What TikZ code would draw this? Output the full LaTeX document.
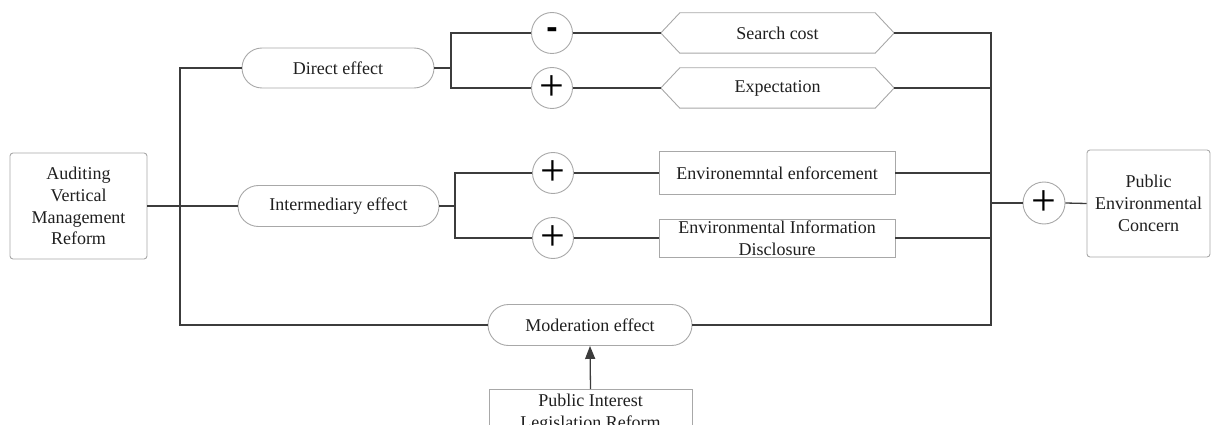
\documentclass[tikz,border=0pt]{standalone}
\usepackage{fontspec}
\setmainfont{Liberation Serif}
\newfontfamily\sansbold{Liberation Sans}
\usetikzlibrary{shapes.misc,arrows.meta,calc}
\definecolor{conn}{HTML}{3C3C3C}
\definecolor{edge}{HTML}{A8A8A8}
\begin{document}
\begin{tikzpicture}[x=1pt,y=-1pt,
  every node/.style={font=\fontsize{18}{21.7}\selectfont, text=black!88, inner sep=0pt},
  boxr/.style={draw=edge, line width=0.9pt, rounded corners=3pt, align=center},
  boxs/.style={draw=edge, line width=0.9pt, align=center},
  pill/.style={draw=edge, line width=0.9pt, rounded rectangle, minimum height=41pt},
  sign/.style={draw=edge, line width=0.9pt, circle, minimum size=41pt, font=\fontsize{44}{44}\selectfont, text=black},
  hexa/.style={minimum width=233pt, minimum height=40pt},
  wire/.style={draw=conn, line width=1.3pt},
]
\useasboundingbox (0,0) rectangle (1213,425);
\clip (0,0) rectangle (1213,425);

% nodes
\node[boxr, minimum width=137pt, minimum height=106pt] (avmr) at (78.5,206) {Auditing\\Vertical\\Management\\Reform};
\node[pill, minimum width=192pt, minimum height=40pt] (direct) at (338,68) {Direct effect};
\node[pill, minimum width=201pt] (inter) at (338.5,206) {Intermediary effect};
\node[pill, minimum width=204pt] (moder) at (590,325) {Moderation effect};

\node[sign] (mc) at (552,33) {\sansbold\bfseries\fontsize{34}{34}\selectfont\raisebox{-2pt}{-}};
\node[sign] (p1) at (552,88) {+};
\node[sign] (p2) at (553,173) {+};
\node[sign] (p3) at (553,238) {+};
\node[sign, minimum size=42pt] (p4) at (1044,203) {+};

\node[hexa] (sc) at (777.5,33) {Search cost};
\node[hexa] (ex) at (777.5,88) {Expectation};
\foreach \h in {sc,ex}{
  \draw[draw=edge, line width=0.9pt] (\h.west) -- ($(\h.north west)+(19,0)$) -- ($(\h.north east)+(-19,0)$)
    -- (\h.east) -- ($(\h.south east)+(-19,0)$) -- ($(\h.south west)+(19,0)$) -- cycle;
}

\node[boxs, minimum width=236pt, minimum height=43pt] (enf) at (777,173) {Environemntal enforcement};
\node[boxs, minimum width=236pt, minimum height=38pt] (dis) at (777,238) {Environmental Information\\Disclosure};
\node[boxr, minimum width=123pt, minimum height=107pt] (pec) at (1148.5,203.5) {Public\\Environmental\\Concern};
\node[boxs, minimum width=203pt, minimum height=50pt, anchor=north, text depth=6pt] (pil) at (590.5,389) {Public Interest\\Legislation Reform};

% coordinates
\coordinate (blt) at (180,68);
\coordinate (blb) at (180,325);
\coordinate (fd) at (451,68);
\coordinate (fi) at (455,206);
\coordinate (brt) at (991,33);
\coordinate (brb) at (991,325);

% connectors
\draw[wire] (direct.west) -- (blt) -- (blb) -- (moder.west);
\draw[wire] (avmr.east) -- (inter.west);
\draw[wire] (direct.east) -- (fd);
\draw[wire] (mc.west) -| (fd) |- (p1.west);
\draw[wire] (mc.east) -- (sc.west);
\draw[wire] (p1.east) -- (ex.west);
\draw[wire] (inter.east) -- (fi);
\draw[wire] (p2.west) -| (fi) |- (p3.west);
\draw[wire] (p2.east) -- (enf.west);
\draw[wire] (p3.east) -- (dis.west);
\draw[wire] (sc.east) -- (brt) -- (brb) -- (moder.east);
\draw[wire] (ex.east) -- (ex.east -| brt);
\draw[wire] (enf.east) -- (enf.east -| brt);
\draw[wire] (dis.east) -- (dis.east -| brt);
\draw[wire] (p4.west) -- (p4.west -| brt);
\draw[wire] (p4.east) -- (pec.west);
\draw[wire, -{Triangle[length=13pt,width=10pt]}] (pil.north) -- (moder.south);
\end{tikzpicture}
\end{document}
